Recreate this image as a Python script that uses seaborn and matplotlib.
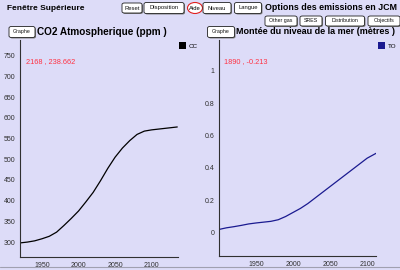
import matplotlib
matplotlib.use("Agg")
import matplotlib.pyplot as plt
import seaborn as sns
import pandas as pd
from matplotlib.patches import Rectangle, FancyBboxPatch, Ellipse

sns.set_style("white")
plt.rcParams['font.family'] = ['Liberation Sans', 'DejaVu Sans']

# ---- data ----
co2_years = [1920, 1930, 1940, 1950, 1960, 1970, 1980, 1990, 2000, 2010, 2020,
             2030, 2040, 2050, 2060, 2070, 2080, 2090, 2100, 2110, 2120, 2135]
co2_ppm = [298, 300, 303, 308, 314, 324, 340, 357, 375, 397, 420,
           448, 478, 505, 527, 545, 560, 568, 571, 573, 575, 578]

sea_years = [1900, 1910, 1920, 1930, 1940, 1950, 1960, 1970, 1980, 1990, 2000,
             2010, 2020, 2030, 2040, 2050, 2060, 2070, 2080, 2090, 2100, 2112]
sea_m = [0.02, 0.03, 0.037, 0.045, 0.054, 0.06, 0.065, 0.07, 0.08, 0.1, 0.125,
         0.15, 0.18, 0.215, 0.25, 0.285, 0.32, 0.355, 0.39, 0.425, 0.46, 0.49]

co2_yticks = [300, 350, 400, 450, 500, 550, 600, 650, 700, 750]
sea_yticks = [0, 0.2, 0.4, 0.6, 0.8, 1.0]
sea_yticklabels = ["0", "0.2", "0.4", "0.6", "0.8", "1"]
x_ticks = [1950, 2000, 2050, 2100]

title_left = "CO2 Atmospherique (ppm )"
title_right = "Montée du niveau de la mer (mètres )"
readout_left = "2168 , 238.662"
readout_right = "1890 , -0.213"

BG = "#dddcf8"
W, H = 400, 270
fig = plt.figure(figsize=(4, 2.7), dpi=100, facecolor=BG)


def fx(x):
    return x / W


def fy(y):
    return 1 - y / H


def axes_px(x0, y0, x1, y1):
    return fig.add_axes([fx(x0), fy(y1), (x1 - x0) / W, (y1 - y0) / H])


def style_axes(ax):
    ax.set_facecolor(BG)
    for s in ["top", "right"]:
        ax.spines[s].set_visible(False)
    for s in ["left", "bottom"]:
        ax.spines[s].set_color("#303030")
        ax.spines[s].set_linewidth(0.8)
    ax.tick_params(axis="both", which="both", direction="out", length=2, width=0.6,
                   color="#404040", labelsize=5, labelcolor="#303030", pad=1.5)
    ax.set_xlabel("")
    ax.set_ylabel("")


# left axes
ax1 = axes_px(20, 40, 178, 257)
df1 = pd.DataFrame({"year": co2_years, "ppm": co2_ppm})
sns.lineplot(data=df1, x="year", y="ppm", ax=ax1, color="black", linewidth=0.9)
ax1.set_xlim(1920, 2136)
ax1.set_ylim(264, 788)
ax1.set_yticks(co2_yticks)
ax1.set_xticks(x_ticks)
style_axes(ax1)

# right axes
ax2 = axes_px(219, 40, 376, 256)
df2 = pd.DataFrame({"year": sea_years, "m": sea_m})
sns.lineplot(data=df2, x="year", y="m", ax=ax2, color="#1a1a90", linewidth=0.9)
ax2.set_xlim(1900, 2112)
ax2.set_ylim(-0.144, 1.19)
ax2.set_yticks(sea_yticks)
ax2.set_yticklabels(sea_yticklabels)
ax2.set_xticks(x_ticks)
style_axes(ax2)

# ---- decorations in pixel space ----
def txt(x, y, s, size=5, weight="normal", color="black", ha="left"):
    fig.text(fx(x), fy(y), s, fontsize=size, fontweight=weight, color=color,
             ha=ha, va="center")


def button(cx, cy, w, h, s, size=4.2, edge="#202020"):
    fig.patches.append(FancyBboxPatch((fx(cx - w / 2 + 1), fy(cy + h / 2 + 1)),
                                      w / W, h / H, boxstyle="round,pad=0,rounding_size=0.006",
                                      transform=fig.transFigure, facecolor="#808080",
                                      edgecolor="none"))
    fig.patches.append(FancyBboxPatch((fx(cx - w / 2), fy(cy + h / 2)),
                                      w / W, h / H, boxstyle="round,pad=0,rounding_size=0.006",
                                      transform=fig.transFigure, facecolor="white",
                                      edgecolor=edge, linewidth=0.6))
    txt(cx, cy, s, size=size, ha="center", color="#101010")


txt(7, 8, "Fenêtre Supérieure", size=6.0, weight="bold")
button(132, 8, 20, 10, "Reset")
button(164, 8, 40, 11, "Disposition")
fig.patches.append(Ellipse((fx(195), fy(8)), 15 / W, 11 / H, transform=fig.transFigure,
                           facecolor="white", edgecolor="#e02020", linewidth=0.8))
txt(195, 8, "Aide", size=4.2, ha="center")
button(217, 8, 28, 11, "Niveau")
button(248, 8, 27, 11, "Langue")
txt(265, 8, "Options des emissions en JCM", size=6.4, weight="bold")

button(281, 21, 32, 10, "Other gas", size=3.8)
button(311, 21, 22, 10, "SRES", size=3.8)
button(345, 21, 39, 10, "Distribution", size=3.8)
button(384, 21, 32, 10, "Objectifs", size=3.8)

button(22, 32, 26, 11, "Graphe", size=3.8)
button(221, 32, 27, 11, "Graphe", size=3.8)
txt(37, 32, title_left, size=7.2, weight="bold")
txt(236, 32, title_right, size=6.5, weight="bold")

fig.patches.append(Rectangle((fx(179), fy(49)), 7 / W, 7 / H, transform=fig.transFigure,
                             facecolor="black", edgecolor="none"))
txt(189, 46, "CC", size=4.5)
fig.patches.append(Rectangle((fx(378), fy(49)), 7 / W, 7 / H, transform=fig.transFigure,
                             facecolor="#1a1a90", edgecolor="none"))
txt(388, 46, "TO", size=4.5)

txt(26, 62, readout_left, size=5.3, color="#ff3344")
txt(224, 62, readout_right, size=5.3, color="#ff3344")

fig.lines.append(plt.Line2D([0, 1], [fy(267), fy(267)], transform=fig.transFigure,
                            color="#a0a0b0", linewidth=0.8))

fig.savefig("out.png", dpi=100, facecolor=BG)
